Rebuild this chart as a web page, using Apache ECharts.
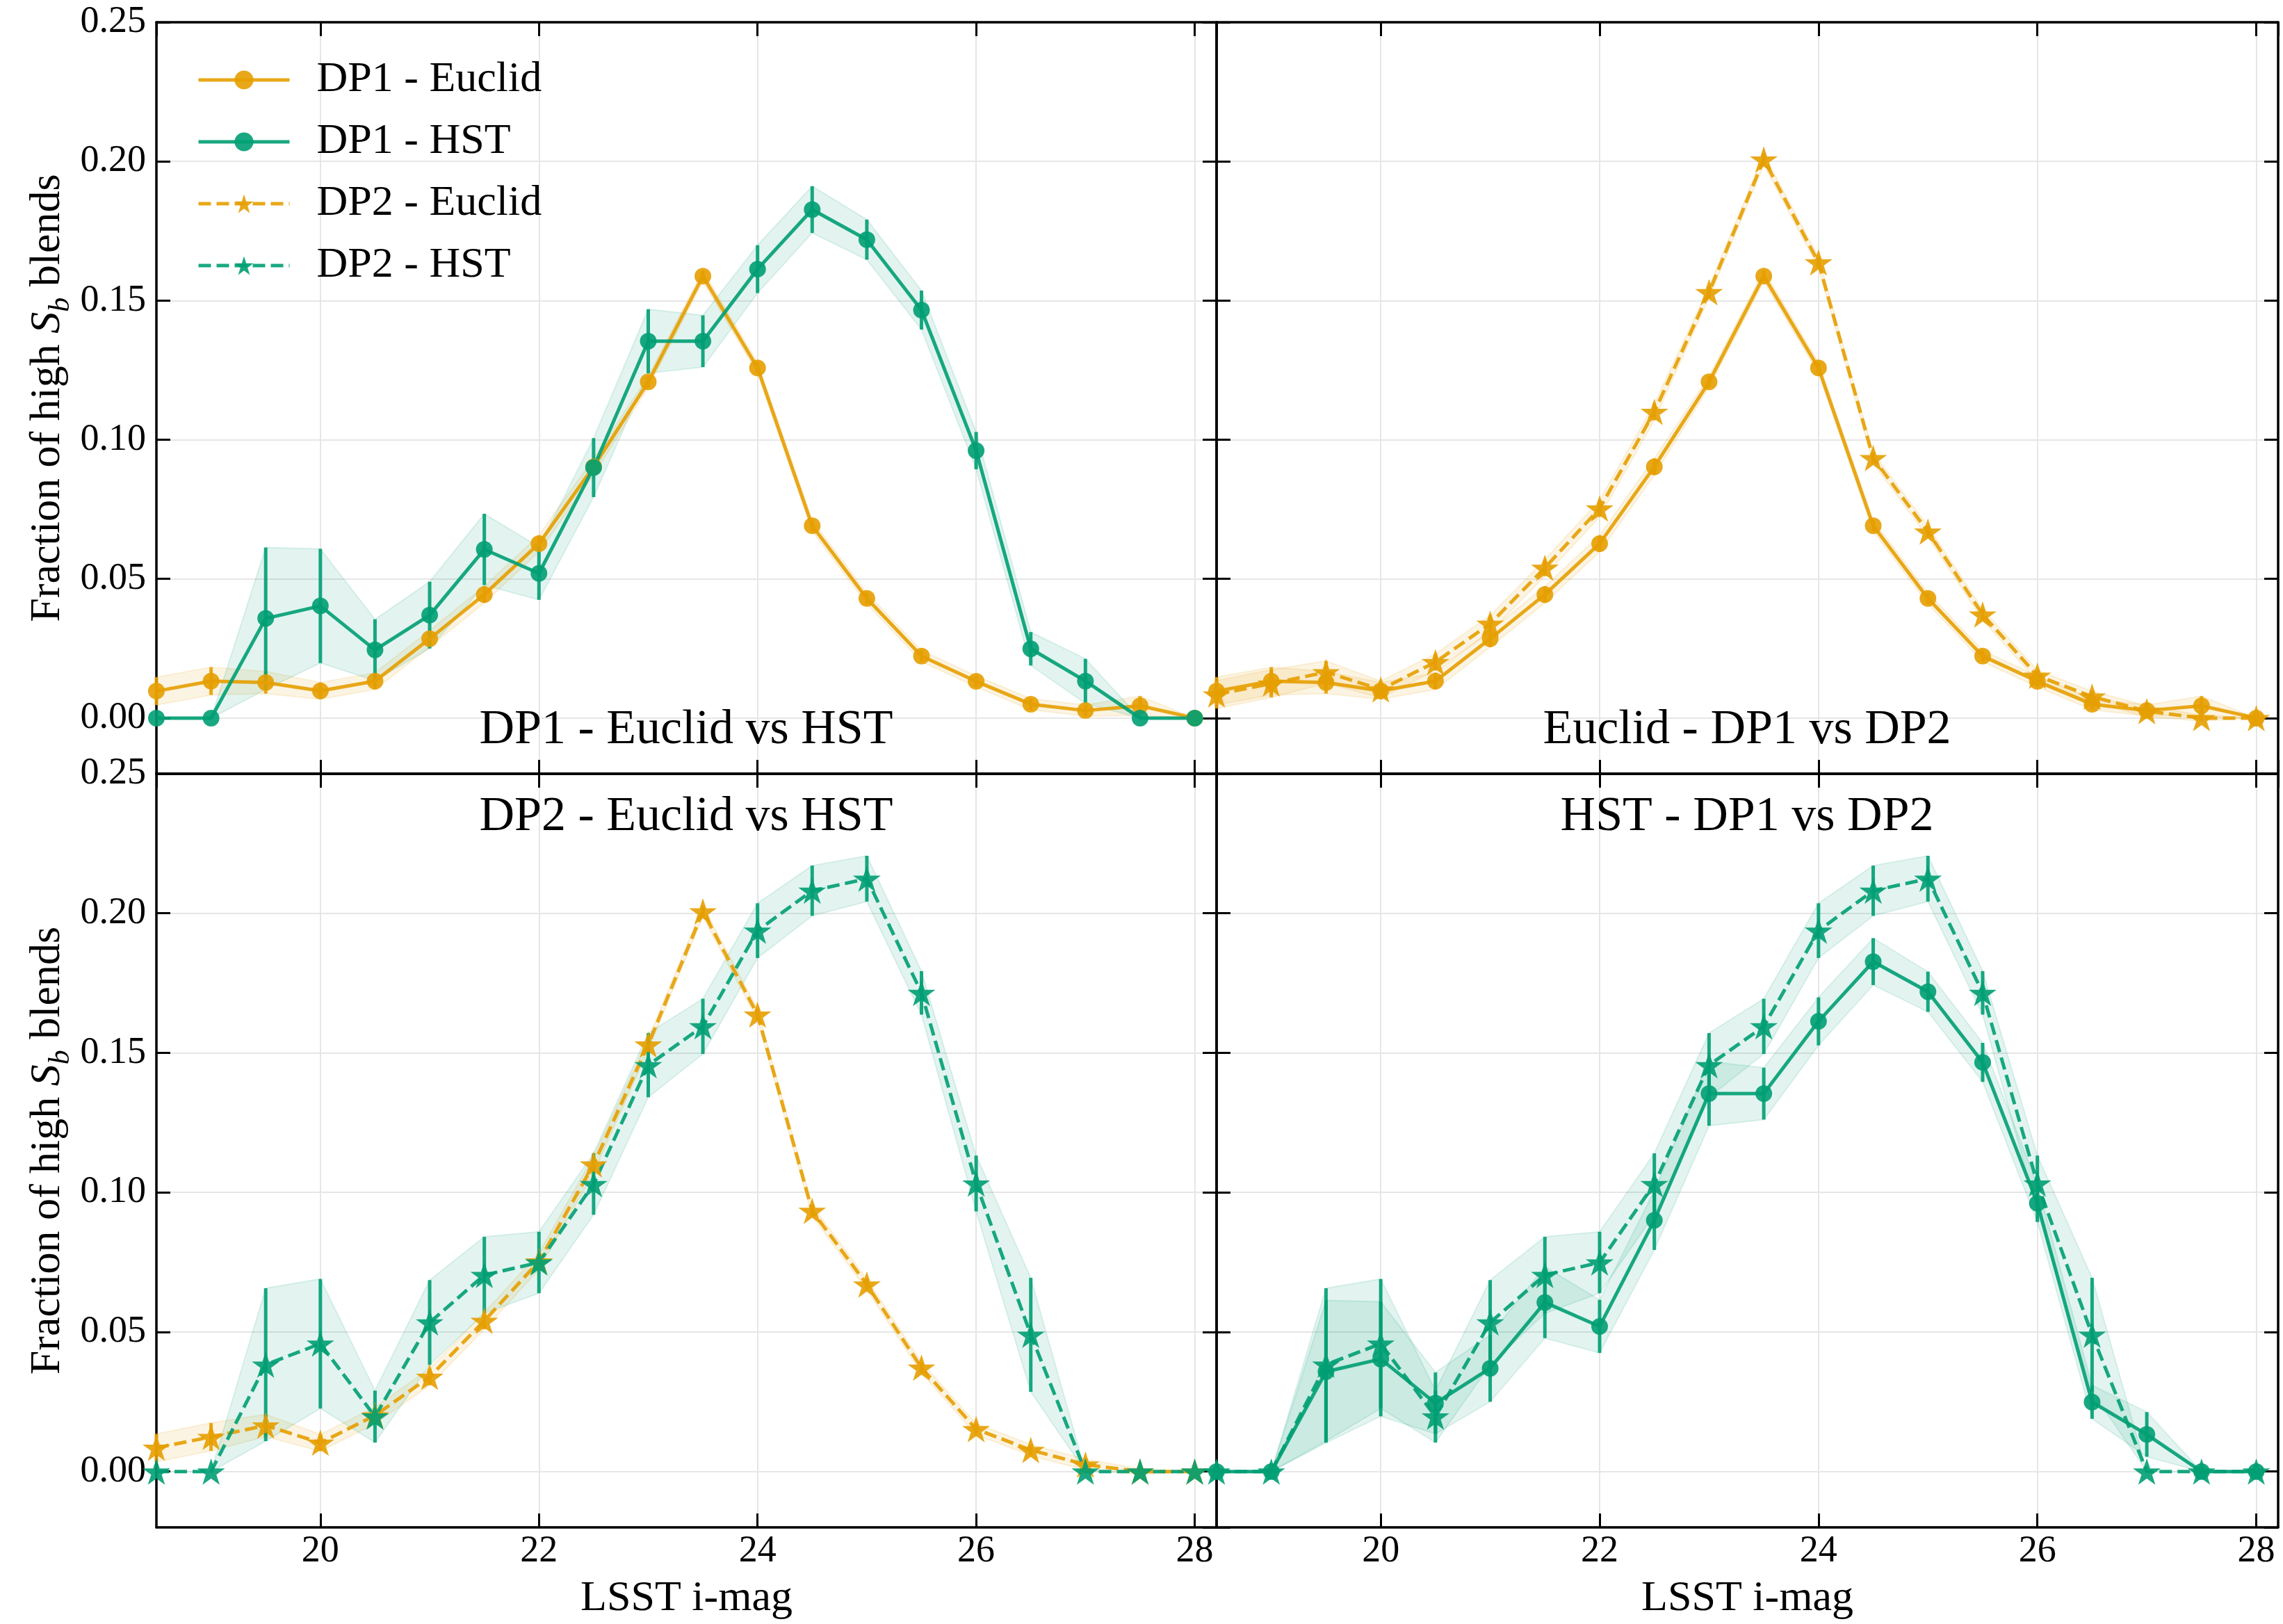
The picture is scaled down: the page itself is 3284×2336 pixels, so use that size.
<!DOCTYPE html>
<html>
<head>
<meta charset="utf-8">
<script src="https://cdn.jsdelivr.net/npm/echarts@6/dist/echarts.min.js"></script>
<style>
html,body{margin:0;padding:0;background:#fff;}
#chart{width:3284px;height:2336px;}
</style>
</head>
<body>
<div id="chart"></div>
<script>
// ---------------- data ----------------
const mags = [18.5,19,19.5,20,20.5,21,21.5,22,22.5,23,23.5,24,24.5,25,25.5,26,26.5,27,27.5,28];

const dp1Euclid    = [0.0097,0.0133,0.0128,0.0098,0.0133,0.0285,0.0444,0.0627,0.0903,0.1208,0.1588,0.1258,0.0691,0.0430,0.0223,0.0132,0.0050,0.0027,0.0044,0.0];
const dp1EuclidErr = [0.005,0.005,0.004,0.003,0.003,0.003,0.003,0.003,0.003,0.002,0.002,0.002,0.002,0.002,0.002,0.002,0.002,0.002,0.0035,0];

const dp1Hst       = [0,0,0.0358,0.0403,0.0245,0.0370,0.0606,0.0520,0.0900,0.1354,0.1354,0.1613,0.1827,0.1719,0.1466,0.0961,0.0249,0.0133,0,0];
const dp1HstErr    = [0,0,0.0255,0.0205,0.0110,0.0120,0.0128,0.0095,0.0106,0.0115,0.0093,0.0086,0.0084,0.0072,0.0070,0.0067,0.0060,0.0080,0,0];

const dp2Euclid    = [0.0085,0.0124,0.0165,0.0103,0.0201,0.0339,0.0540,0.0753,0.1100,0.1530,0.2007,0.1637,0.0934,0.0670,0.0372,0.0152,0.0077,0.0025,0.0,0.0];
const dp2EuclidErr = [0.005,0.005,0.004,0.003,0.003,0.003,0.003,0.003,0.003,0.002,0.002,0.002,0.002,0.002,0.002,0.002,0.002,0.002,0.001,0];

const dp2Hst       = [0,0,0.0383,0.0458,0.0197,0.0534,0.0704,0.0749,0.1030,0.1456,0.1595,0.1938,0.2081,0.2124,0.1715,0.1032,0.0490,0,0,0];
const dp2HstErr    = [0,0,0.0274,0.0232,0.0093,0.0152,0.0137,0.0110,0.0110,0.0115,0.0099,0.0098,0.0090,0.0082,0.0078,0.0100,0.0204,0,0,0];

const panelTitles = ['DP1 - Euclid vs HST','Euclid - DP1 vs DP2','DP2 - Euclid vs HST','HST - DP1 vs DP2'];
const legendNames = ['DP1 - Euclid','DP1 - HST','DP2 - Euclid','DP2 - HST'];
const xTickLabels = ['20','22','24','26','28'];
const xAxisName = 'LSST i-mag';

// ---------------- styling ----------------
const FONT = 'Liberation Serif';
const ORANGE = '#E69F00';
const GREEN = '#009E73';
const LW = 5;
const DASH = [18, 8];

function starPath(){
  const pts=[];
  for(let k=0;k<10;k++){
    const r = k%2===0 ? 1 : 0.381966;
    const a = -Math.PI/2 + k*Math.PI/5;
    pts.push((r*Math.cos(a)).toFixed(4)+','+(r*Math.sin(a)).toFixed(4));
  }
  return 'path://M'+pts.join('L')+'Z';
}
const STAR = starPath();

const defs = {
  'DP1 - Euclid': {vals: dp1Euclid, err: dp1EuclidErr, color: ORANGE, rgb:'230,159,0', dashed:false},
  'DP1 - HST':    {vals: dp1Hst,    err: dp1HstErr,    color: GREEN,  rgb:'0,158,115', dashed:false},
  'DP2 - Euclid': {vals: dp2Euclid, err: dp2EuclidErr, color: ORANGE, rgb:'230,159,0', dashed:true},
  'DP2 - HST':    {vals: dp2Hst,    err: dp2HstErr,    color: GREEN,  rgb:'0,158,115', dashed:true}
};
const panels = [
  ['DP1 - Euclid','DP1 - HST'],
  ['DP1 - Euclid','DP2 - Euclid'],
  ['DP2 - Euclid','DP2 - HST'],
  ['DP1 - HST','DP2 - HST']
];

const grids = [
  {left:225,  top:32,   width:1525, height:1081},
  {left:1750, top:32,   width:1527, height:1081},
  {left:225,  top:1113, width:1525, height:1084},
  {left:1750, top:1113, width:1527, height:1084}
];

const xAxes=[], yAxes=[];
grids.forEach((g,gi)=>{
  const bottomRow = gi>=2, leftCol = gi%2===0;
  ['bottom','top'].forEach(pos=>{
    const lab = bottomRow && pos==='bottom';
    xAxes.push({
      type:'value', gridIndex:gi, position:pos, min:18.5, max:28.2, minInterval:2, maxInterval:2,
      axisLine:{show:true,onZero:false,lineStyle:{color:'#000',width:3.5}},
      axisTick:{show:true,inside:true,length:20,lineStyle:{color:'#000',width:3}},
      axisLabel:{show:lab,margin:8,showMinLabel:false,showMaxLabel:false,
        fontFamily:FONT,fontSize:54,color:'#000',
        formatter:v=>{const s=String(Math.round(v)); return xTickLabels.indexOf(s)>=0 && Math.abs(v-Math.round(v))<1e-6 ? s : '';}},
      splitLine:{show:pos==='bottom',lineStyle:{color:'#e6e6e6',width:2}},
      name: lab ? xAxisName : '', nameLocation:'middle', nameGap:72,
      nameTextStyle:{fontFamily:FONT,fontSize:62,color:'#000'}
    });
  });
  ['left','right'].forEach(pos=>{
    const lab = leftCol && pos==='left';
    yAxes.push({
      type:'value', gridIndex:gi, position:pos, min:-0.02, max:0.25, minInterval:0.05, maxInterval:0.05,
      axisLine:{show:true,onZero:false,lineStyle:{color:'#000',width:3.5}},
      axisTick:{show:true,inside:true,length:20,lineStyle:{color:'#000',width:3}},
      axisLabel:{show:lab,margin:15,showMinLabel:false,fontFamily:FONT,fontSize:54,color:'#000',
        formatter:v=>v.toFixed(2)},
      splitLine:{show:pos==='left',lineStyle:{color:'#e6e6e6',width:2}},
      name: lab ? '{m|Fraction of high }{i|S}{s|b}{m| blends}' : '',
      nameLocation:'middle', nameGap:125, nameRotate:90,
      nameTextStyle:{fontFamily:FONT,fontSize:62,color:'#000',rich:{
        m:{fontFamily:FONT,fontSize:62,lineHeight:62,verticalAlign:'top',color:'#000'},
        i:{fontFamily:FONT,fontStyle:'italic',fontSize:62,lineHeight:62,verticalAlign:'top',color:'#000'},
        s:{fontFamily:FONT,fontStyle:'italic',fontSize:42,lineHeight:42,padding:[29,0,0,0],verticalAlign:'top',color:'#000'}
      }}
    });
  });
});

const series=[];
panels.forEach((names,gi)=>{
  const xi = 2*gi, yi = 2*gi;
  names.forEach(nm=>{
    const d = defs[nm];
    // shaded band
    series.push({
      type:'custom', name: nm+' band', xAxisIndex:xi, yAxisIndex:yi, z:1, silent:true,
      data: mags.map((x,i)=>[x, d.vals[i]-d.err[i], d.vals[i]+d.err[i]]),
      encode:{x:0,y:[1,2]},
      renderItem:(params,api)=>{
        if(params.dataIndex!==0) return null;
        const n = params.dataInsideLength;
        const up=[], lo=[];
        for(let i=0;i<n;i++){
          up.push(api.coord([api.value(0,i), api.value(2,i)]));
          lo.push(api.coord([api.value(0,i), api.value(1,i)]));
        }
        const pts = up.concat(lo.reverse());
        return {type:'polygon', shape:{points:pts},
          style:{fill:'rgba('+d.rgb+',0.11)', stroke:'rgba('+d.rgb+',0.12)', lineWidth:2}};
      }
    });
  });
  names.forEach(nm=>{
    const d = defs[nm];
    // error bars
    series.push({
      type:'custom', name: nm+' err', xAxisIndex:xi, yAxisIndex:yi, z:2, silent:true,
      data: mags.map((x,i)=>[x, d.vals[i]-d.err[i], d.vals[i]+d.err[i]]),
      encode:{x:0,y:[1,2]},
      renderItem:(params,api)=>{
        const lo = api.value(1), hi = api.value(2);
        if(hi-lo<=0) return null;
        const p1 = api.coord([api.value(0), lo]);
        const p2 = api.coord([api.value(0), hi]);
        return {type:'line', shape:{x1:p1[0],y1:p1[1],x2:p2[0],y2:p2[1]},
          style:{stroke:d.color, lineWidth:LW, opacity:0.9}};
      }
    });
    // line + markers
    series.push({
      type:'line', name:nm, xAxisIndex:xi, yAxisIndex:yi, z:3,
      data: mags.map((x,i)=>[x, d.vals[i]]),
      symbol: d.dashed ? STAR : 'circle',
      symbolSize: d.dashed ? 40 : 24,
      symbolKeepAspect:true,
      showSymbol:true, showAllSymbol:true,
      lineStyle:{color:d.color,width:LW,type:d.dashed?DASH:'solid',opacity:0.9},
      itemStyle:{color:d.color,opacity:0.9,borderWidth:0},
      emphasis:{disabled:true}
    });
  });
});

const titlePos = [[987,1051],[2513,1051],[987,1176],[2513,1176]];
const graphic = panelTitles.map((t,i)=>({
  type:'text', x:titlePos[i][0], y:titlePos[i][1], z:10, silent:true,
  style:{text:t, fontFamily:FONT, fontSize:70, fill:'#000',
    align:'center', verticalAlign:'middle'}
}));

const chart = echarts.init(document.getElementById('chart'), null, {renderer:'canvas'});
chart.setOption({
  backgroundColor:'#ffffff',
  animation:false,
  grid: grids,
  xAxis: xAxes,
  yAxis: yAxes,
  legend:{
    data: legendNames, orient:'vertical', left:278, top:79,
    itemWidth:131, itemHeight:34, itemGap:27, selectedMode:false,
    textStyle:{fontFamily:FONT,fontSize:62,color:'#000',lineHeight:62,padding:[0,0,0,34]},
    lineStyle:{width:LW}
  },
  graphic: graphic,
  series: series
});
</script>
</body>
</html>
